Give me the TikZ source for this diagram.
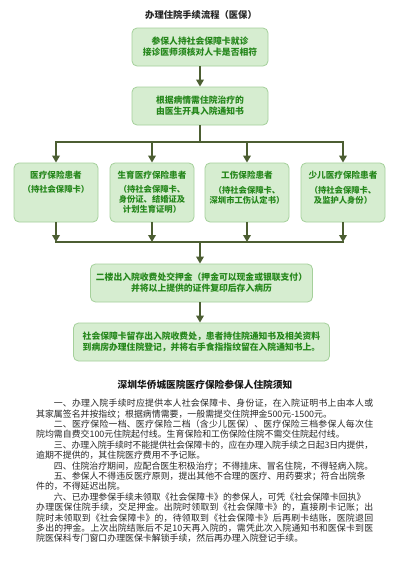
\documentclass[tikz,border=0pt]{standalone}
\usepackage{fontspec}
\setmainfont{Noto Sans CJK SC}
\usetikzlibrary{arrows.meta}
\XeTeXlinebreaklocale "zh"
\XeTeXlinebreakskip=0pt plus 1pt minus 0.4pt
\definecolor{boxfill}{RGB}{214,237,208}
\definecolor{boxdraw}{RGB}{165,208,155}
\definecolor{boxtext}{RGB}{38,135,28}
\definecolor{arrowc}{RGB}{76,94,50}
\definecolor{bodytext}{RGB}{40,40,40}
\begin{document}
\begin{tikzpicture}[x=1pt,y=-1pt,
  flowbox/.style={draw=boxdraw, fill=boxfill, rounded corners=5pt, line width=0.8pt, inner sep=0pt},
  flowtext/.style={text=boxtext, font=\fontsize{8.8pt}{10.8pt}\selectfont\bfseries, align=center, inner sep=0pt},
  headtext/.style={text=boxtext, font=\fontsize{8.6pt}{10pt}\selectfont\bfseries, align=center, inner sep=0pt},
  subtext/.style={text=boxtext, font=\fontsize{8.3pt}{10pt}\selectfont\bfseries, align=center, inner sep=0pt},
  conn/.style={draw=arrowc, line width=2pt},
  arr/.style={conn, -{Triangle[length=7pt,width=7.5pt]}},
]
\fill[white] (0,0) rectangle (400,563);
\useasboundingbox (0,0) rectangle (400,563);

\node[font=\fontsize{9.3pt}{12pt}\selectfont\bfseries, text=black!85, inner sep=0pt] (title) at (201,15) {办理住院手续流程（医保）};

\node[flowbox, flowtext, minimum width=136pt, minimum height=38pt] (b1) at (200,47) {参保人持社会保障卡就诊\\接诊医师须核对人卡是否相符};
\node[flowbox, flowtext, minimum width=136pt, minimum height=38pt] (b2) at (200,106) {根据病情需住院治疗的\\由医生开具入院通知书};

\node[flowbox, minimum width=84pt, minimum height=59pt] (pA) at (56,192.5) {};
\node[flowbox, minimum width=84pt, minimum height=59pt] (pB) at (152,192.5) {};
\node[flowbox, minimum width=84pt, minimum height=59pt] (pC) at (247,192.5) {};
\node[flowbox, minimum width=84pt, minimum height=59pt] (pD) at (343,192.5) {};

\node[headtext] (hA) at (56,175) {医疗保险患者};
\node[subtext] (sA) at (56,189) {（持社会保障卡）};
\node[headtext] (hB) at (152,175) {生育医疗保险患者};
\node[subtext] (sB) at (152,199.5) {（持社会保障卡、\\身份证、结婚证及\\计划生育证明）};
\node[headtext] (hC) at (247,175) {工伤保险患者};
\node[subtext] (sC) at (247,195) {（持社会保障卡、\\深圳市工伤认定书）};
\node[headtext] (hD) at (343,175) {少儿医疗保险患者};
\node[subtext] (sD) at (343,195) {（持社会保障卡、\\及监护人身份）};

\node[flowbox, flowtext, minimum width=222pt, minimum height=38pt] (b5) at (201.5,283) {二楼出入院收费处交押金（押金可以现金或银联支付）\\并将以上提供的证件复印后存入病历};
\node[flowbox, flowtext, minimum width=256pt, minimum height=38pt] (b6) at (201.5,342) {社会保障卡留存出入院收费处，患者持住院通知书及相关资料\\到病房办理住院登记，并将右手食指指纹留在入院通知书上。};

\coordinate (split) at (200,142);
\coordinate (merge) at (200,242);

\draw[arr] (b1.south) -- (b2.north);
\draw[conn] (b2.south) -- (split);
\draw[conn, line cap=rect] (pA.north |- split) -- (pD.north |- split);
\foreach \p in {pA,pB,pC,pD} {
  \draw[arr] (\p.north |- split) -- (\p.north);
  \draw[arr] (\p.south) -- (\p.south |- merge);
}
\draw[conn, line cap=rect] (pA.south |- merge) -- (pD.south |- merge);
\draw[arr] (merge) -- (merge |- b5.north);
\draw[arr] (merge |- b5.south) -- (merge |- b6.north);

\node[font=\fontsize{9.7pt}{12pt}\selectfont\bfseries, text=black!90, inner sep=0pt] (heading) at (205,385) {深圳华侨城医院医疗保险参保人住院须知};

\node[anchor=north west, text width=337pt, align=justify, inner sep=0pt, text=bodytext, font=\fontsize{8.9pt}{10.4pt}\selectfont] (notes) at (36,399) {%
\hspace*{2em}一、办理入院手续时应提供本人社会保障卡、身份证，在入院证明书上由本人或\linebreak 其家属签名并按指纹；根据病情需要，一般需提交住院押金500元-1500元。\par
\hspace*{2em}二、医疗保险一档、医疗保险二档（含少儿医保）、医疗保险三档参保人每次住\linebreak 院均需自费交100元住院起付线。生育保险和工伤保险住院不需交住院起付线。\par
\hspace*{2em}三、办理入院手续时不能提供社会保障卡的，应在办理入院手续之日起3日内提供，\linebreak 逾期不提供的，其住院医疗费用不予记账。\par
\hspace*{2em}四、住院治疗期间，应配合医生积极治疗；不得挂床、冒名住院，不得轻病入院。\par
\hspace*{2em}五、参保人不得违反医疗原则，提出其他不合理的医疗、用药要求；符合出院条\\件的，不得延迟出院。\par
\hspace*{2em}六、已办理参保手续未领取《社会保障卡》的参保人，可凭《社会保障卡回执》\\办理医保住院手续，交足押金。出院时领取到《社会保障卡》的，直接刷卡记账；出\linebreak 院时未领取到《社会保障卡》的，待领取到《社会保障卡》后再刷卡结账，医院退回\linebreak 多出的押金。上次出院结账后不足10天再入院的，需凭此次入院通知书和医保卡到医\linebreak 院医保科专门窗口办理医保卡解锁手续，然后再办理入院登记手续。\par};
\end{tikzpicture}
\end{document}
